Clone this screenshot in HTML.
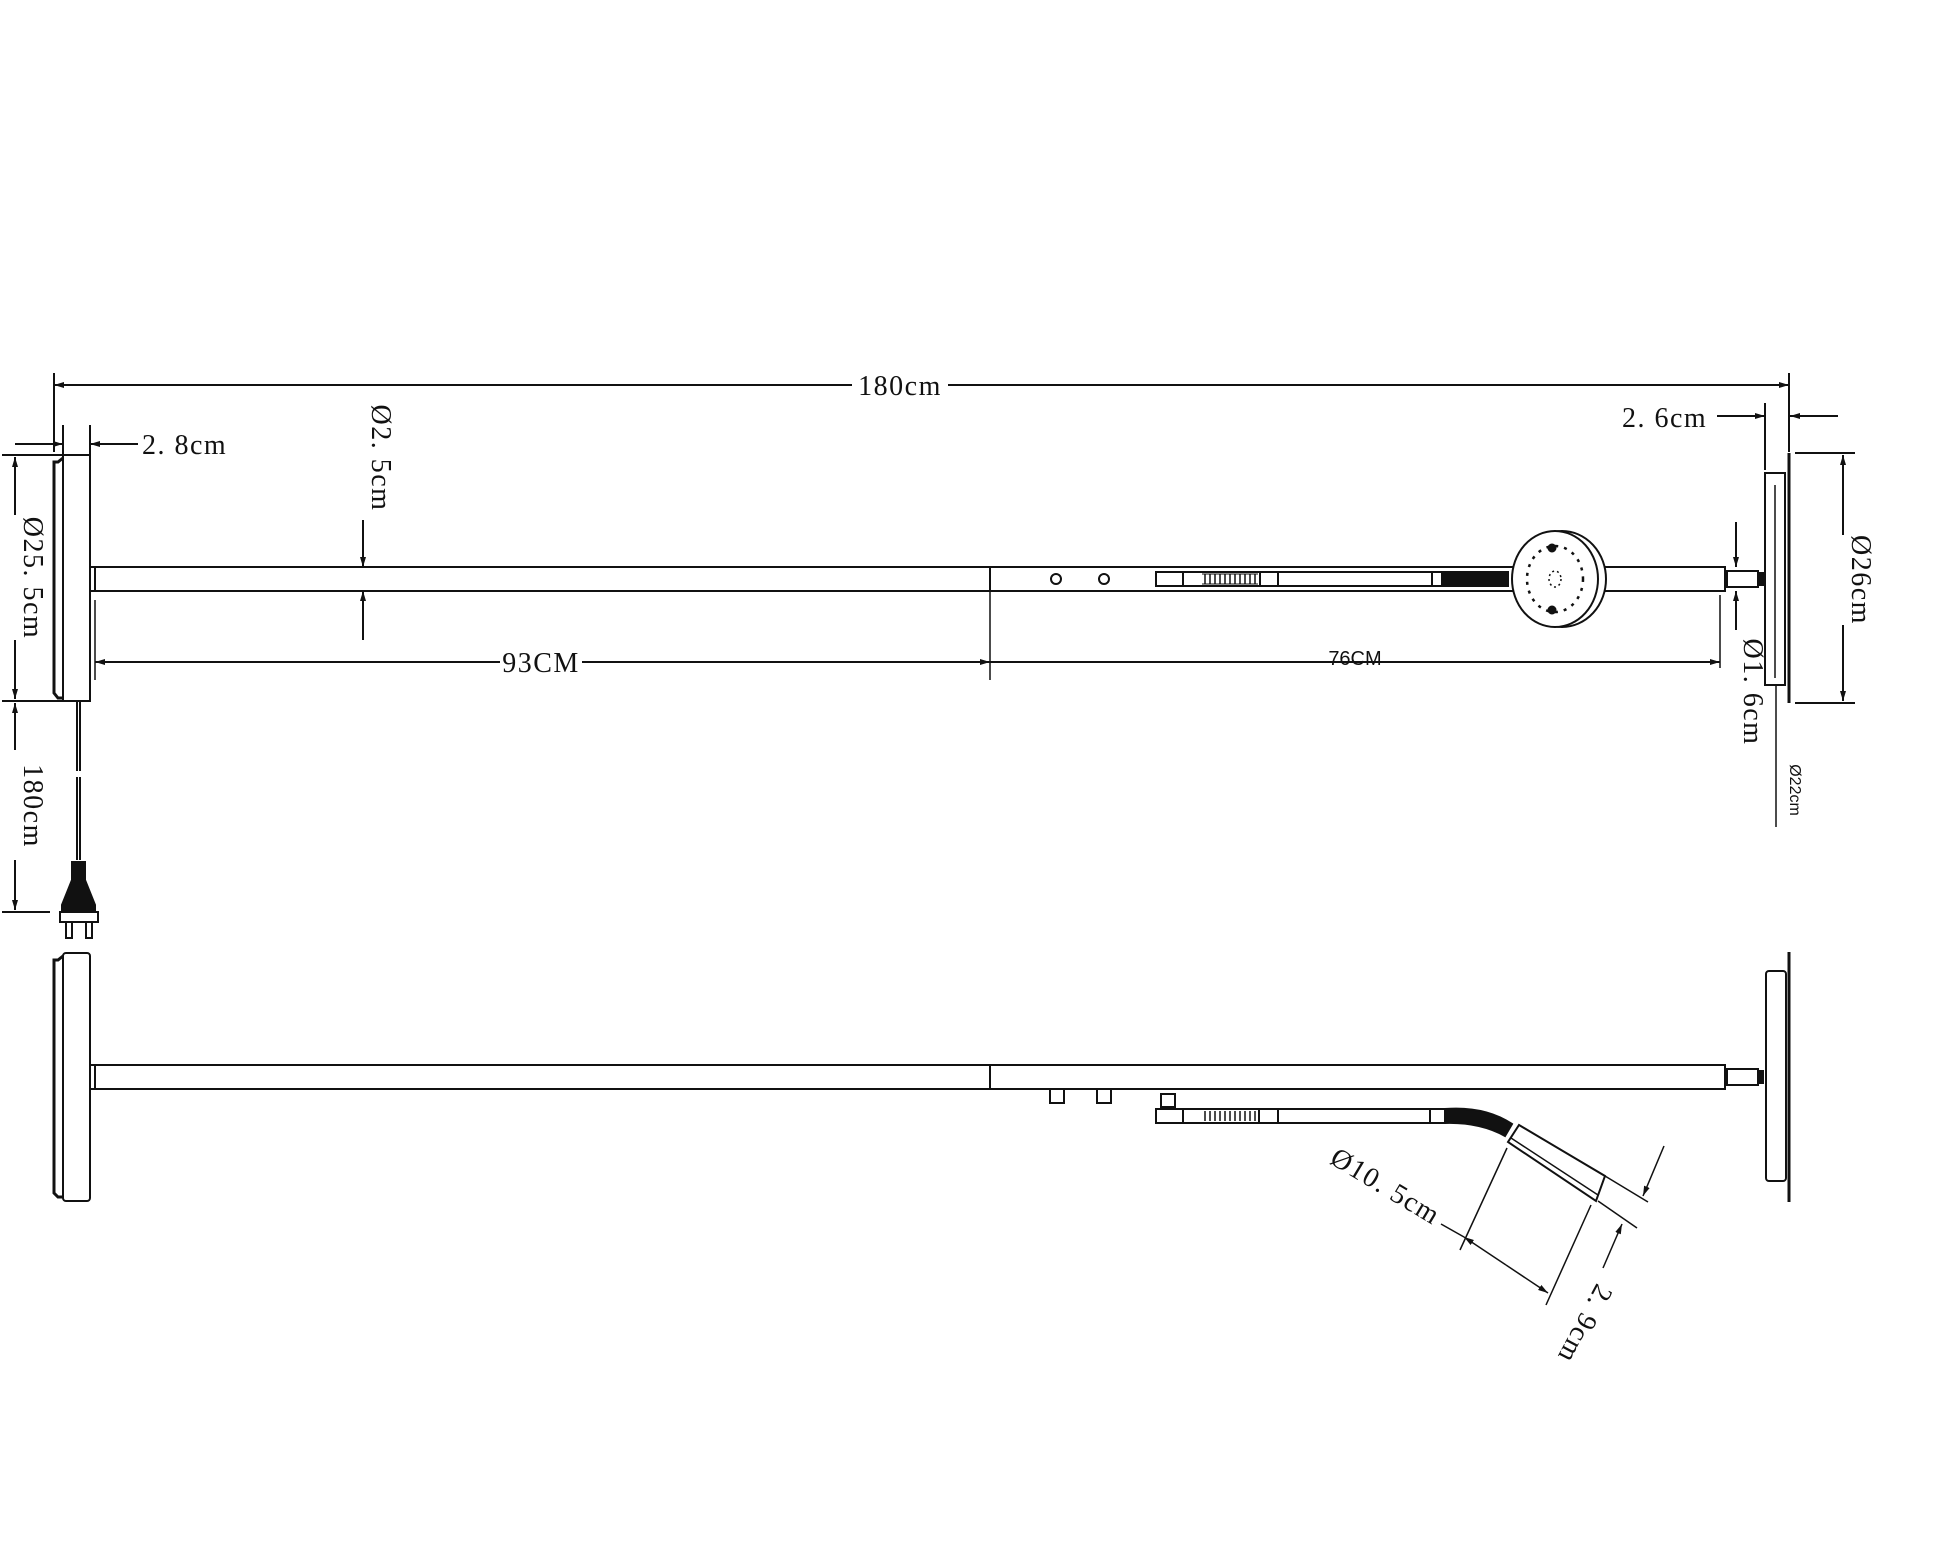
<!DOCTYPE html>
<html><head><meta charset="utf-8"><style>
html,body{margin:0;padding:0;background:#fff;}
svg{display:block;}
text{font-family:"Liberation Serif",serif;fill:#111;}
.s{font-family:"Liberation Sans",sans-serif;}
</style></head><body>
<svg width="1940" height="1553" viewBox="0 0 1940 1553" xmlns="http://www.w3.org/2000/svg">
<defs>
<marker id="a" viewBox="0 0 10 6" refX="10" refY="3" markerWidth="10" markerHeight="6" orient="auto" markerUnits="userSpaceOnUse"><path d="M0,0 L10,3 L0,6 z" fill="#111"/></marker>
</defs>
<g stroke="#111" stroke-width="2" fill="none">
<line x1="54" y1="373" x2="54" y2="452"/>
<line x1="1789" y1="373" x2="1789" y2="452"/>
<line x1="852" y1="385" x2="54" y2="385" marker-end="url(#a)"/>
<line x1="948" y1="385" x2="1789" y2="385" marker-end="url(#a)"/>

<line x1="63" y1="425" x2="63" y2="455"/>
<line x1="90" y1="425" x2="90" y2="455"/>
<line x1="15" y1="444" x2="63" y2="444" marker-end="url(#a)"/>
<line x1="138" y1="444" x2="90" y2="444" marker-end="url(#a)"/>

<rect x="63" y="455" width="27" height="246"/>
<path d="M63,458 L58,462 L54,462 L54,693 L58,698 L63,698" stroke-width="3"/>
<rect x="90" y="567" width="5" height="24"/>
<line x1="2" y1="455" x2="63" y2="455"/>
<line x1="2" y1="701" x2="63" y2="701"/>
<line x1="2" y1="912" x2="50" y2="912"/>
<line x1="15" y1="515" x2="15" y2="457" marker-end="url(#a)"/>
<line x1="15" y1="640" x2="15" y2="699" marker-end="url(#a)"/>
<line x1="15" y1="750" x2="15" y2="703" marker-end="url(#a)"/>
<line x1="15" y1="860" x2="15" y2="910" marker-end="url(#a)"/>
<line x1="77" y1="701" x2="77" y2="771"/>
<line x1="80" y1="701" x2="80" y2="771"/>
<line x1="77" y1="777" x2="77" y2="860"/>
<line x1="80" y1="777" x2="80" y2="860"/>
<path d="M72,862 L85,862 L85,880 L95,905 L95,915 L62,915 L62,905 L72,880 z" fill="#111"/>
<rect x="60" y="912" width="38" height="10" fill="#fff"/>
<rect x="66" y="922" width="6" height="16"/>
<rect x="86" y="922" width="6" height="16"/>

<rect x="95" y="567" width="1630" height="24"/>
<line x1="990" y1="567" x2="990" y2="591"/>
<line x1="990" y1="591" x2="990" y2="680" stroke-width="1.5"/>
<line x1="95" y1="600" x2="95" y2="680" stroke-width="1.5"/>
<circle cx="1056" cy="579" r="5"/>
<circle cx="1104" cy="579" r="5"/>
<rect x="1156" y="572" width="352" height="14"/>
<line x1="1183" y1="572" x2="1183" y2="586"/>
<line x1="1260" y1="572" x2="1260" y2="586"/>
<line x1="1278" y1="572" x2="1278" y2="586"/>
<line x1="1432" y1="572" x2="1432" y2="586"/>
<path d="M1202,574 h56 M1202,584 h56" stroke-width="1"/>
<path d="M1205,574 v10 M1210,574 v10 M1215,574 v10 M1220,574 v10 M1225,574 v10 M1230,574 v10 M1235,574 v10 M1240,574 v10 M1245,574 v10 M1250,574 v10 M1255,574 v10" stroke-width="1.5"/>
<rect x="1442" y="574" width="66" height="10" fill="#111"/>
<ellipse cx="1562" cy="579" rx="44" ry="48" fill="#fff"/>
<ellipse cx="1555" cy="579" rx="43" ry="48" fill="#fff"/>
<ellipse cx="1555" cy="579" rx="28" ry="33" stroke-dasharray="3,6" stroke-width="2.5"/>
<ellipse cx="1555" cy="579" rx="6" ry="8" stroke-dasharray="2,3" stroke-width="1.5"/>
<circle cx="1552" cy="548" r="3.5" fill="#111"/>
<circle cx="1552" cy="610" r="3.5" fill="#111"/>
<rect x="1727" y="571" width="31" height="16"/>
<rect x="1758" y="573" width="5" height="12" fill="#111"/>
<rect x="1765" y="473" width="20" height="212"/>
<line x1="1775" y1="485" x2="1775" y2="678" stroke-width="1.5"/>
<line x1="1789" y1="453" x2="1789" y2="703" stroke-width="3"/>
<line x1="1776" y1="685" x2="1776" y2="827" stroke-width="1.5"/>
<line x1="1765" y1="403" x2="1765" y2="470"/>
<line x1="1717" y1="416" x2="1765" y2="416" marker-end="url(#a)"/>
<line x1="1838" y1="416" x2="1790" y2="416" marker-end="url(#a)"/>
<line x1="1795" y1="453" x2="1855" y2="453"/>
<line x1="1795" y1="703" x2="1855" y2="703"/>
<line x1="1843" y1="535" x2="1843" y2="455" marker-end="url(#a)"/>
<line x1="1843" y1="625" x2="1843" y2="701" marker-end="url(#a)"/>
<line x1="1736" y1="522" x2="1736" y2="567" marker-end="url(#a)"/>
<line x1="1736" y1="630" x2="1736" y2="591" marker-end="url(#a)"/>
<line x1="1720" y1="595" x2="1720" y2="668" stroke-width="1.5"/>
<line x1="363" y1="520" x2="363" y2="567" marker-end="url(#a)"/>
<line x1="363" y1="640" x2="363" y2="591" marker-end="url(#a)"/>
<line x1="500" y1="662" x2="95" y2="662" marker-end="url(#a)"/>
<line x1="582" y1="662" x2="990" y2="662" marker-end="url(#a)"/>
<line x1="990" y1="662" x2="1720" y2="662" marker-end="url(#a)"/>

<rect x="63" y="953" width="27" height="248" rx="3"/>
<path d="M63,956 L58,960 L54,960 L54,1193 L58,1197 L63,1197" stroke-width="3"/>
<rect x="90" y="1065" width="5" height="24"/>
<rect x="95" y="1065" width="1630" height="24"/>
<line x1="990" y1="1065" x2="990" y2="1089"/>
<rect x="1050" y="1089" width="14" height="14"/>
<rect x="1097" y="1089" width="14" height="14"/>
<rect x="1727" y="1069" width="31" height="16"/>
<rect x="1758" y="1071" width="5" height="12" fill="#111"/>
<rect x="1766" y="971" width="20" height="210" rx="3"/>
<line x1="1789" y1="952" x2="1789" y2="1202" stroke-width="3"/>
<rect x="1161" y="1094" width="14" height="13"/>
<rect x="1156" y="1109" width="289" height="14"/>
<line x1="1183" y1="1109" x2="1183" y2="1123"/>
<line x1="1259" y1="1109" x2="1259" y2="1123"/>
<line x1="1278" y1="1109" x2="1278" y2="1123"/>
<line x1="1430" y1="1109" x2="1430" y2="1123"/>
<path d="M1205,1111 v10 M1210,1111 v10 M1215,1111 v10 M1220,1111 v10 M1225,1111 v10 M1230,1111 v10 M1235,1111 v10 M1240,1111 v10 M1245,1111 v10 M1250,1111 v10 M1255,1111 v10" stroke-width="1.5"/>
<path d="M1445,1109 Q1485,1106 1512,1124 L1505,1136 Q1480,1122 1445,1123 z" fill="#111"/>
<path d="M1519,1125 L1605,1176 L1596,1201 L1508,1142 z" fill="#fff"/>
<line x1="1511" y1="1138" x2="1598" y2="1195" stroke-width="1.5"/>
<line x1="1507" y1="1148" x2="1460" y2="1250" stroke-width="1.5"/>
<line x1="1591" y1="1205" x2="1546" y2="1305" stroke-width="1.5"/>
<line x1="1441" y1="1224" x2="1464" y2="1237" stroke-width="1.5"/>
<line x1="1506" y1="1265" x2="1464" y2="1237" marker-end="url(#a)" stroke-width="1.5"/>
<line x1="1506" y1="1265" x2="1548" y2="1293" marker-end="url(#a)" stroke-width="1.5"/>
<line x1="1605" y1="1176" x2="1648" y2="1202" stroke-width="1.5"/>
<line x1="1598" y1="1201" x2="1637" y2="1228" stroke-width="1.5"/>
<line x1="1664" y1="1146" x2="1643" y2="1196" marker-end="url(#a)" stroke-width="1.5"/>
<line x1="1603" y1="1268" x2="1622" y2="1224" marker-end="url(#a)" stroke-width="1.5"/>
</g>

<g font-size="28" letter-spacing="1.5">
<text x="900" y="395" text-anchor="middle">180cm</text>
<text x="142" y="454">2. 8cm</text>
<text x="1622" y="427">2. 6cm</text>
<text x="541" y="672" text-anchor="middle">93CM</text>
<text class="s" x="1355" y="665" text-anchor="middle" font-size="20" letter-spacing="0">76CM</text>
<text transform="translate(24,578) rotate(90)" text-anchor="middle">Ø25. 5cm</text>
<text transform="translate(24,806) rotate(90)" text-anchor="middle">180cm</text>
<text transform="translate(372,458) rotate(90)" text-anchor="middle">Ø2. 5cm</text>
<text transform="translate(1852,580) rotate(90)" text-anchor="middle">Ø26cm</text>
<text transform="translate(1744,692) rotate(90)" text-anchor="middle">Ø1. 6cm</text>
<text class="s" transform="translate(1790,790) rotate(90)" text-anchor="middle" font-size="16" letter-spacing="0">Ø22cm</text>
<text transform="translate(1381,1194) rotate(31)" text-anchor="middle">Ø10. 5cm</text>
<text transform="translate(1577,1320) rotate(118)" text-anchor="middle">2. 9cm</text>
</g>
</svg>
</body></html>
